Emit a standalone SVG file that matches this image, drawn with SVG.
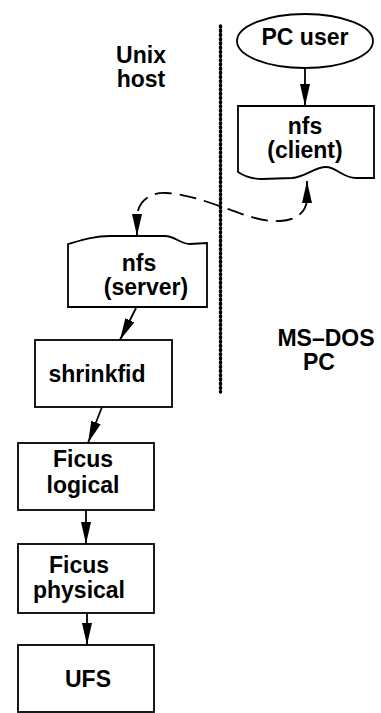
<svg xmlns="http://www.w3.org/2000/svg" width="381" height="713" viewBox="0 0 381 713">
<style>
  .shape { fill: #fff; stroke: #000; stroke-width: 1.8; }
  .lbl { font-family: "Liberation Sans", Arial, Helvetica, sans-serif; font-weight: bold; font-size: 23px; fill: #000; text-anchor: middle; }
  .conn { fill: none; stroke: #000; stroke-width: 1.8; }
  .dashed { stroke-dasharray: 17 8; }
  .dots { fill: none; stroke: #000; stroke-width: 3.4; stroke-linecap: round; stroke-dasharray: 1.2 3; }
</style>
<defs>
  <marker id="arrow" markerUnits="userSpaceOnUse" markerWidth="24" markerHeight="12" refX="22" refY="6" orient="auto-start-reverse" viewBox="0 0 24 12">
    <path d="M0,1 L22,6 L0,11 Z" fill="#000"/>
  </marker>
</defs>
<rect width="381" height="713" fill="#fff"/>

<g id="divider">
  <line class="dots" x1="220.5" y1="26" x2="220.5" y2="392"/>
</g>

<g id="label-unix">
  <text class="lbl" x="141" y="63">Unix</text>
  <text class="lbl" x="141" y="87">host</text>
</g>
<g id="label-msdos">
  <text class="lbl" x="326" y="346">MS–DOS</text>
  <text class="lbl" x="319" y="370">PC</text>
</g>

<g id="pc-user">
  <ellipse class="shape" cx="305" cy="41" rx="68" ry="27"/>
  <text class="lbl" x="305" y="45">PC user</text>
</g>

<g id="nfs-client">
  <path class="shape" d="M238,106 L374,106 L374,178 L356,178 C342,178 337,167 326,167 C314,167 306,177 292,178 L262,179 C250,179 244,176 238,172 Z"/>
  <text class="lbl" x="305" y="134">nfs</text>
  <text class="lbl" x="305" y="158">(client)</text>
</g>

<g id="nfs-server">
  <path class="shape" d="M68,244 C82,240 94,236 110,236 L165,236 C175,236 180,244 190,244 L207,243 L207,307 L68,307 Z"/>
  <text class="lbl" x="139" y="271">nfs</text>
  <text class="lbl" x="146" y="295">(server)</text>
</g>

<g id="shrinkfid">
  <rect class="shape" x="35" y="340" width="137" height="67"/>
  <text class="lbl" x="97" y="382">shrinkfid</text>
</g>

<g id="ficus-logical">
  <rect class="shape" x="18" y="443" width="136" height="67"/>
  <text class="lbl" x="83" y="467">Ficus</text>
  <text class="lbl" x="83" y="493">logical</text>
</g>

<g id="ficus-physical">
  <rect class="shape" x="18" y="544" width="136" height="69"/>
  <text class="lbl" x="79" y="573">Ficus</text>
  <text class="lbl" x="79" y="598">physical</text>
</g>

<g id="ufs">
  <rect class="shape" x="18" y="645" width="136" height="67"/>
  <text class="lbl" x="88" y="687">UFS</text>
</g>

<g id="connectors">
  <line class="conn" x1="305" y1="68" x2="305" y2="106" marker-end="url(#arrow)"/>
  <path class="conn dashed" d="M137,236 L137,218 C137,202 150,192 166,193 C186,194 205,201 225,208 C245,215 262,222 280,221 C299,220 307,210 307,198 L307,181" marker-start="url(#arrow)" marker-end="url(#arrow)"/>
  <line class="conn" x1="136" y1="308" x2="120" y2="340" marker-end="url(#arrow)"/>
  <line class="conn" x1="102" y1="407" x2="88" y2="443" marker-end="url(#arrow)"/>
  <line class="conn" x1="86" y1="510" x2="86" y2="544" marker-end="url(#arrow)"/>
  <line class="conn" x1="87" y1="613" x2="87" y2="645" marker-end="url(#arrow)"/>
</g>
</svg>
